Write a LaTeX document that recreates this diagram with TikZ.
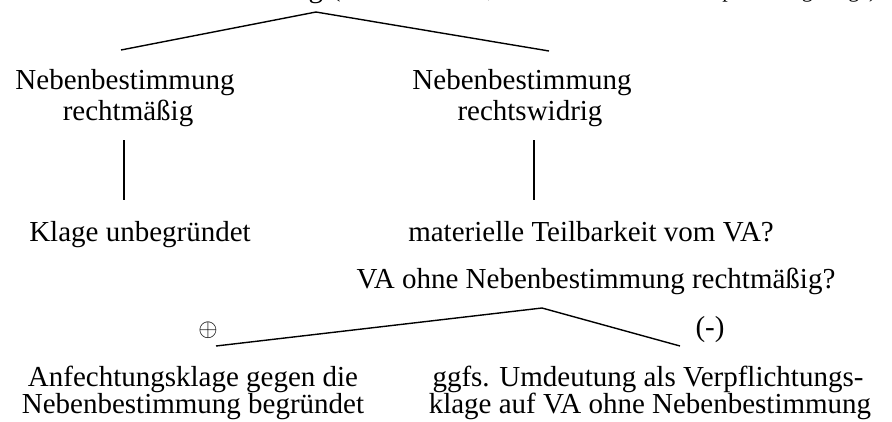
\documentclass[tikz,border=0pt]{standalone}
\usepackage{fontspec}
\setmainfont{Liberation Serif}
\begin{document}
\begin{tikzpicture}[x=1pt,y=-1pt,
  every node/.style={inner sep=0pt,outer sep=0pt},
  txt/.style={font=\fontsize{29}{33}\selectfont,anchor=base},
  hdr/.style={font=\fontsize{22}{26}\selectfont,anchor=base west},
  sym/.style={font=\fontsize{29}{33}\selectfont,anchor=center},
  ln/.style={line width=1.4pt}]
\useasboundingbox (0,0) rectangle (892,421);
% header (cut off at the top edge)
\node[txt,anchor=base east] (hd1) at (323,-2.5) {Entscheidung};
\node[hdr] (hd2) at (333,-2.5) {(§ 113 I 1 VwGO, § 113 V 1 VwGO bei Verpflichtungsklage)};
% top branching
\coordinate (t0) at (316,12);
\coordinate (tl) at (121,50);
\coordinate (tr) at (549,51);
\draw[ln] (tl) -- (t0) -- (tr);
% level 1
\node[txt] (l1a) at (125,89) {Nebenbestimmung};
\node[txt] (l1b) at (128,120) {rechtmäßig};
\node[txt] (r1a) at (522,89) {Nebenbestimmung};
\node[txt] (r1b) at (530,120) {rechtswidrig};
% vertical connectors
\coordinate (lv1) at (124,140);
\coordinate (lv2) at (124,200);
\coordinate (rv1) at (534,140);
\coordinate (rv2) at (534,200);
\draw[ln] (lv1) -- (lv2);
\draw[ln] (rv1) -- (rv2);
% level 2
\node[txt] (l2) at (140,241) {Klage unbegründet};
\node[txt] (r2a) at (591,241) {materielle Teilbarkeit vom VA?};
\node[txt] (r2b) at (596,288) {VA ohne Nebenbestimmung rechtmäßig?};
% lower branching
\coordinate (b0) at (542,308);
\coordinate (bl) at (216,346);
\coordinate (br) at (680,346);
\draw[ln] (bl) -- (b0) -- (br);
\node[sym,font=\fontsize{25}{28}\selectfont] (plus) at (208,330) {$\oplus$};
\node[sym] (minus) at (710,330) {(-)};
% level 3
\node[txt] (ba1) at (193,386) {Anfechtungsklage gegen die};
\node[txt] (ba2) at (193,413) {Nebenbestimmung begründet};
\node[txt] (bb1) at (648,386) {ggfs. Umdeutung als Verpflichtungs-};
\node[txt] (bb2) at (650,413) {klage auf VA ohne Nebenbestimmung};
\end{tikzpicture}
\end{document}
